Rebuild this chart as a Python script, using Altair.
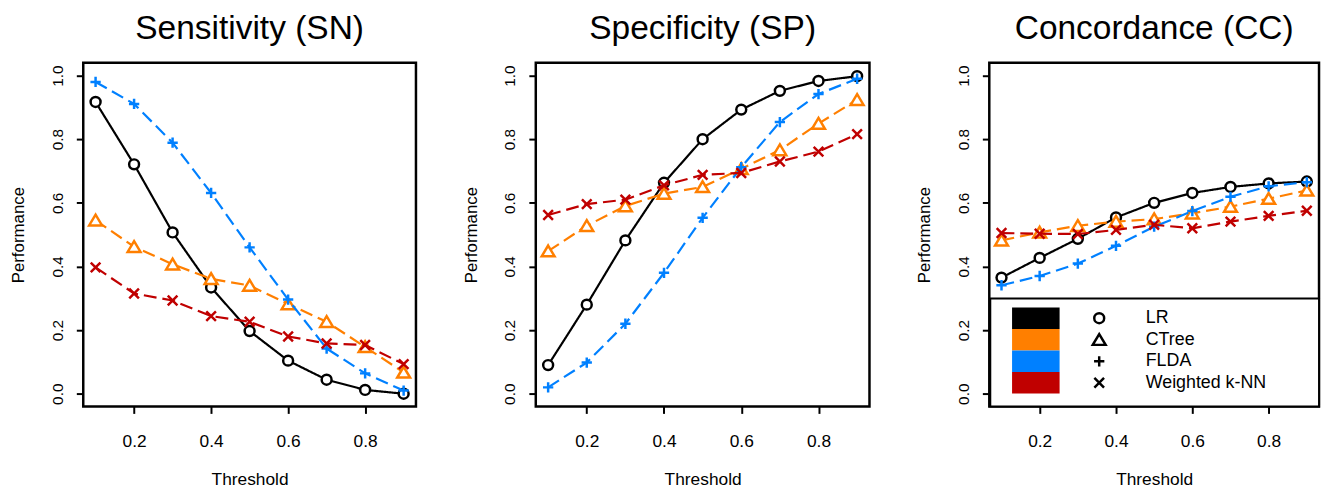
import altair as alt
import pandas as pd

thresholds = [0.1, 0.2, 0.3, 0.4, 0.5, 0.6, 0.7, 0.8, 0.9]
methods = ["LR", "CTree", "FLDA", "Weighted k-NN"]
colors = ["#000000", "#FF7F00", "#0080FF", "#C00000"]

sn_lr = [0.917, 0.721, 0.507, 0.334, 0.197, 0.104, 0.044, 0.012, 0.000]
sn_ctree = [0.545, 0.462, 0.407, 0.361, 0.340, 0.282, 0.226, 0.147, 0.067]
sn_flda = [0.980, 0.911, 0.789, 0.631, 0.460, 0.296, 0.142, 0.064, 0.010]
sn_knn = [0.397, 0.315, 0.293, 0.244, 0.226, 0.180, 0.158, 0.153, 0.093]

sp_lr = [0.090, 0.280, 0.482, 0.663, 0.800, 0.893, 0.952, 0.983, 0.998]
sp_ctree = [0.448, 0.528, 0.590, 0.629, 0.650, 0.707, 0.766, 0.849, 0.924]
sp_flda = [0.020, 0.098, 0.220, 0.380, 0.553, 0.712, 0.854, 0.942, 0.990]
sp_knn = [0.562, 0.596, 0.610, 0.655, 0.688, 0.694, 0.730, 0.761, 0.816]

cc_lr = [0.365, 0.427, 0.487, 0.554, 0.600, 0.631, 0.650, 0.661, 0.667]
cc_ctree = [0.482, 0.507, 0.528, 0.541, 0.549, 0.567, 0.588, 0.613, 0.639]
cc_flda = [0.341, 0.370, 0.409, 0.465, 0.525, 0.574, 0.619, 0.652, 0.665]
cc_knn = [0.505, 0.503, 0.502, 0.515, 0.531, 0.520, 0.541, 0.559, 0.575]

panels = [
    ("Sensitivity (SN)", [sn_lr, sn_ctree, sn_flda, sn_knn]),
    ("Specificity (SP)", [sp_lr, sp_ctree, sp_flda, sp_knn]),
    ("Concordance (CC)", [cc_lr, cc_ctree, cc_flda, cc_knn]),
]
panel_widths = [336, 337, 333]

# marker glyphs (R pch 1, 2, 3, 4) as unit-box SVG paths
shape_paths = [
    "M0.77,0A0.77,0.77 0 1,1 -0.77,0A0.77,0.77 0 1,1 0.77,0Z",
    "M0,-0.88L1,0.8L-1,0.8Z",
    "M-0.8,0H0.8M0,-0.8V0.8",
    "M-0.75,-0.75L0.75,0.75M-0.75,0.75L0.75,-0.75",
]
dashes = [[1, 0], [13, 6], [13, 6], [13, 6]]

FONT = "Liberation Sans"
H = 347

color_scale = alt.Scale(domain=methods, range=colors)
shape_scale = alt.Scale(domain=methods, range=shape_paths)
dash_scale = alt.Scale(domain=methods, range=dashes)

x_enc = alt.X(
    "threshold:Q",
    scale=alt.Scale(domain=[0.068, 0.932], nice=False, zero=False),
    axis=alt.Axis(values=[0.2, 0.4, 0.6, 0.8], format=".1f", title="Threshold",
                  labelFontSize=17.5, titleFontSize=17.5, labelPadding=19,
                  titlePadding=21),
)
y_enc = alt.Y(
    "value:Q",
    scale=alt.Scale(domain=[-0.04, 1.04], nice=False, zero=False),
    axis=alt.Axis(values=[0, 0.2, 0.4, 0.6, 0.8, 1.0], format=".1f", title="Performance",
                  labelAngle=270, labelFontSize=15.5, titleFontSize=17,
                  labelPadding=11, titlePadding=23),
)


def make_panel(title, series, W, with_legend):
    rows = []
    for m, vals in zip(methods, series):
        for t, v in zip(thresholds, vals):
            rows.append({"threshold": t, "value": v, "method": m})
    df = pd.DataFrame(rows)
    base = alt.Chart(df)
    layers = []
    for m in methods:
        sub = base.transform_filter(alt.datum.method == m)
        line = sub.mark_line(strokeWidth=2.2).encode(
            x=x_enc, y=y_enc,
            color=alt.Color("method:N", scale=color_scale, legend=None),
            strokeDash=alt.StrokeDash("method:N", scale=dash_scale, legend=None),
        )
        pts = sub.mark_point(filled=False, fill="white", strokeWidth=2.5, size=169,
                             opacity=1).encode(
            x=x_enc, y=y_enc,
            color=alt.Color("method:N", scale=color_scale, legend=None),
            shape=alt.Shape("method:N", scale=shape_scale, legend=None),
        )
        layers += [line, pts]
    data_layer = alt.layer(*layers)
    title_params = alt.TitleParams(title, fontSize=33.8, font=FONT, fontWeight="normal",
                                   color="black", offset=-10, baseline="alphabetic",
                                   anchor="middle")
    if not with_legend:
        return data_layer.properties(width=W, height=H, title=title_params)

    # legend drawn inside the panel, entries placed by a band scale over the methods
    leg = alt.Chart(pd.DataFrame({"method": methods}))
    leg_y = alt.Y("method:N", sort=methods,
                  scale=alt.Scale(domain=methods, range=[247, 334],
                                  paddingInner=0, paddingOuter=0),
                  axis=None)
    frame = alt.Chart(pd.DataFrame({"k": [0]})).mark_rect(
        fill="white", stroke="black", strokeWidth=2
    ).encode(x=alt.value(1), x2=alt.value(W), y=alt.value(238), y2=alt.value(H))
    swatch = leg.mark_rect().encode(
        x=alt.value(23), x2=alt.value(71), y=leg_y,
        color=alt.Color("method:N", scale=color_scale, legend=None),
    )
    sym = leg.mark_point(filled=False, strokeWidth=2.5, size=169, opacity=1,
                         color="black").encode(
        x=alt.value(111), y=leg_y,
        shape=alt.Shape("method:N", scale=shape_scale, legend=None),
    )
    lab = leg.mark_text(align="left", baseline="middle", font=FONT, fontSize=18,
                        color="black").encode(
        x=alt.value(158), y=leg_y, text="method:N",
    )
    legend_layer = alt.layer(frame, swatch, sym, lab)
    return alt.layer(data_layer, legend_layer).resolve_scale(
        y="independent", color="independent", shape="independent"
    ).properties(width=W, height=H, title=title_params)


charts = [make_panel(t, s, w, i == 2)
          for i, ((t, s), w) in enumerate(zip(panels, panel_widths))]

chart = alt.hconcat(*charts, spacing=43).properties(
    padding={"left": 0, "top": 0, "right": 0, "bottom": 0},
    background="white",
).configure_view(
    stroke="black", strokeWidth=2.5
).configure_axis(
    grid=False, domain=False, tickColor="black", tickWidth=2, tickSize=7,
    labelFont=FONT, titleFont=FONT, labelColor="black", titleColor="black",
    titleFontWeight="normal",
)

chart.save("out.html", embed_options={"renderer": "svg", "actions": False})
